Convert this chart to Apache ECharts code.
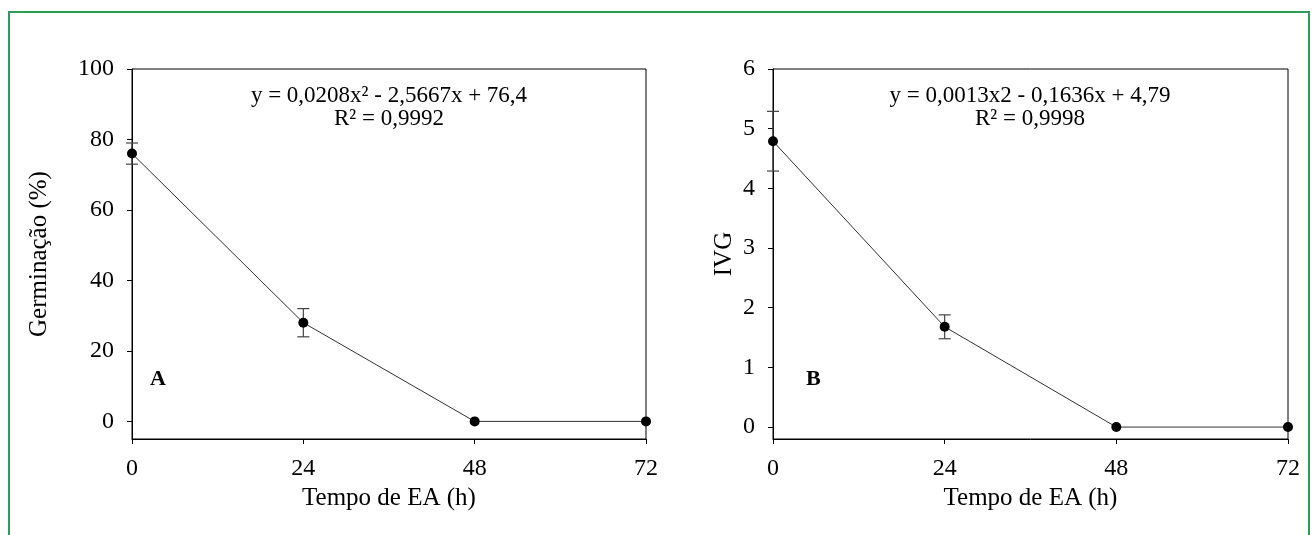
<!DOCTYPE html>
<html>
<head>
    <meta charset="utf-8">
    <script src="https://cdn.jsdelivr.net/npm/echarts@6/dist/echarts.min.js"></script>
    <style>
        body { margin: 0; background: #fff; }
    </style>
</head>
<body>
	<div id="main" style="width: 1312px; height: 535px;"></div>
	<script type="text/javascript">
		// valores
		var hours = [0, 24, 48, 72]
		var germ = [76, 28, 0, 0]
		var germErr = [3, 4, 0, 0]
		var ivg = [4.79, 1.68, 0, 0]
		var ivgErr = [0.5, 0.2, 0, 0]
		var germTicks = [0, 20, 40, 60, 80, 100]
		var ivgTicks = [0, 1, 2, 3, 4, 5, 6]
		var eqA = 'y = 0,0208x² - 2,5667x + 76,4\nR² = 0,9992'
		var eqB = 'y = 0,0013x2 - 0,1636x + 4,79\nR² = 0,9998'

		var font = '"Liberation Serif", "Times New Roman", serif'
		var myChart = echarts.init(document.getElementById('main'))

		function pts(ys){
			var out = []
			for (var i = 0; i < hours.length; i++){
				out.push([hours[i], ys[i]])
			}
			return out
		}
		function errs(ys, es){
			var out = []
			for (var i = 0; i < hours.length; i++){
				if (es[i] > 0) out.push([hours[i], ys[i] - es[i], ys[i] + es[i]])
			}
			return out
		}
		// barra de erro com "chapeu"
		function errorBar(params, api){
			var lo = api.coord([api.value(0), api.value(1)])
			var hi = api.coord([api.value(0), api.value(2)])
			var w = 6
			var st = { stroke: '#444', lineWidth: 1.2 }
			return {
				type: 'group',
				children: [
					{ type: 'line', shape: { x1: lo[0], y1: lo[1], x2: hi[0], y2: hi[1] }, style: st },
					{ type: 'line', shape: { x1: lo[0] - w, y1: lo[1], x2: lo[0] + w, y2: lo[1] }, style: st },
					{ type: 'line', shape: { x1: hi[0] - w, y1: hi[1], x2: hi[0] + w, y2: hi[1] }, style: st }
				]
			}
		}
		function xAx(idx){
			return {
				gridIndex: idx,
				type: 'value',
				min: 0, max: 72, interval: 24,
				name: 'Tempo de EA (h)',
				nameLocation: 'middle',
				nameGap: 47,
				nameTextStyle: { fontFamily: font, fontSize: 25, color: '#000' },
				axisLine: { onZero: false, lineStyle: { color: '#000', width: 1 } },
				axisTick: { show: true, length: 5, lineStyle: { color: '#000' } },
				axisLabel: { fontFamily: font, fontSize: 24, color: '#000', margin: 18 },
				splitLine: { show: false }
			}
		}
		function yAx(idx, name, min, max, ticks, gap){
			return {
				gridIndex: idx,
				type: 'value',
				min: min, max: max,
				name: name,
				nameLocation: 'middle',
				nameGap: gap,
				nameTextStyle: { fontFamily: font, fontSize: 25, color: '#000' },
				axisLine: { show: true, onZero: false, lineStyle: { color: '#000', width: 1 } },
				axisTick: { show: true, length: 5, customValues: ticks, lineStyle: { color: '#000' } },
				axisLabel: { fontFamily: font, fontSize: 24, color: '#000', margin: 18, customValues: ticks },
				splitLine: { show: false }
			}
		}
		function lineSeries(idx, ys){
			return {
				type: 'line',
				xAxisIndex: idx, yAxisIndex: idx,
				data: pts(ys),
				symbol: 'circle',
				symbolSize: 10,
				itemStyle: { color: '#000' },
				lineStyle: { color: '#333', width: 1 },
				z: 3,
				animation: false
			}
		}
		function errSeries(idx, ys, es){
			return {
				type: 'custom',
				xAxisIndex: idx, yAxisIndex: idx,
				data: errs(ys, es),
				renderItem: errorBar,
				z: 2,
				animation: false
			}
		}

option = {
    backgroundColor: '#fff',
    animation: false,
    grid: [
        { left: 132, top: 69, width: 514, height: 370, show: true, borderColor: '#000', borderWidth: 1, backgroundColor: 'transparent' },
        { left: 773, top: 69, width: 515, height: 370, show: true, borderColor: '#000', borderWidth: 1, backgroundColor: 'transparent' }
    ],
    xAxis: [xAx(0), xAx(1)],
    yAxis: [
        yAx(0, 'Germinação (%)', -5, 100, germTicks, 80),
        yAx(1, 'IVG', -0.2, 6, ivgTicks, 36)
    ],
    series: [
        errSeries(0, germ, germErr),
        lineSeries(0, germ),
        errSeries(1, ivg, ivgErr),
        lineSeries(1, ivg)
    ],
    graphic: [
        // moldura verde
        { type: 'rect', shape: { x: 9, y: 12, width: 1300, height: 600 }, style: { fill: 'none', stroke: '#2e9b5a', lineWidth: 2 }, silent: true },
        { type: 'text', x: 389, y: 84, style: { text: eqA, textAlign: 'center', font: '23px ' + font, lineHeight: 23, fill: '#000' } },
        { type: 'text', x: 1030, y: 84, style: { text: eqB, textAlign: 'center', font: '23px ' + font, lineHeight: 23, fill: '#000' } },
        { type: 'text', x: 150, y: 368, style: { text: 'A', font: 'bold 22px ' + font, fill: '#000' } },
        { type: 'text', x: 806, y: 368, style: { text: 'B', font: 'bold 22px ' + font, fill: '#000' } }
    ]
};
	myChart.setOption(option)
	</script>
</body>
</html>
